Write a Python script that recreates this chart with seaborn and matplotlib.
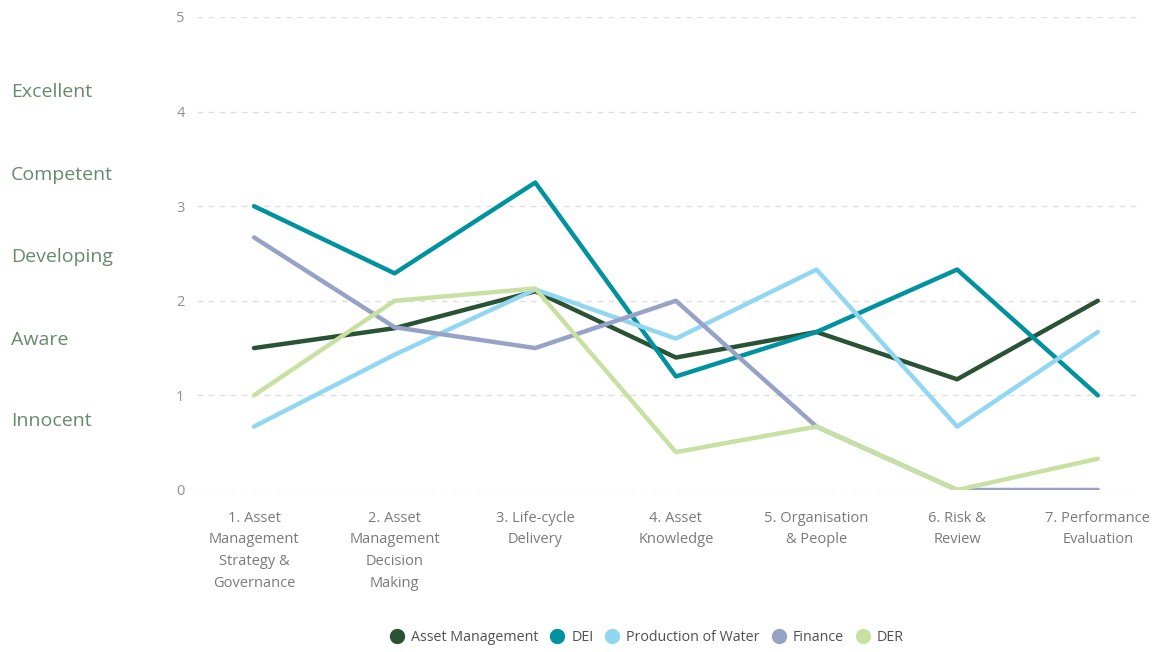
import matplotlib
matplotlib.use("Agg")
import matplotlib.pyplot as plt
import matplotlib.transforms as mtransforms
from matplotlib.lines import Line2D
import pandas as pd
import seaborn as sns

categories = [
    "1. Asset\nManagement\nStrategy &\nGovernance",
    "2. Asset\nManagement\nDecision\nMaking",
    "3. Life-cycle\nDelivery",
    "4. Asset\nKnowledge",
    "5. Organisation\n& People",
    "6. Risk &\nReview",
    "7. Performance\nEvaluation",
]
asset_management = [1.5, 1.71, 2.1, 1.4, 1.67, 1.17, 2.0]
dei = [3.0, 2.29, 3.25, 1.2, 1.67, 2.33, 1.0]
production_of_water = [0.67, 1.43, 2.12, 1.6, 2.33, 0.67, 1.67]
finance = [2.67, 1.72, 1.5, 2.0, 0.67, 0.0, 0.0]
der = [1.0, 2.0, 2.13, 0.4, 0.67, 0.0, 0.33]

series_names = ["Asset Management", "DEI", "Production of Water", "Finance", "DER"]
series_values = [asset_management, dei, production_of_water, finance, der]
colors = ["#2a5234", "#00939f", "#92d7f1", "#97a3c6", "#c8e1a3"]

level_labels = ["Excellent", "Competent", "Developing", "Aware", "Innocent"]
level_positions = [4.21, 3.33, 2.46, 1.59, 0.73]

rows = []
for name, vals in zip(series_names, series_values):
    for cat, v in zip(categories, vals):
        rows.append({"category": cat, "score": v, "series": name})
df = pd.DataFrame(rows)

sns.set_style("white")
plt.rcParams["font.family"] = ["Open Sans", "DejaVu Sans"]

fig = plt.figure(figsize=(11.63, 6.52), dpi=100)
ax = fig.add_axes([0.1694, 0.2485, 0.8108, 0.7255])

palette = dict(zip(series_names, colors))
sns.lineplot(data=df, x="category", y="score", hue="series", palette=palette,
             hue_order=series_names, sort=False, linewidth=3.2, ax=ax, legend=False)

ax.set_xlim(-0.405, 6.3)
ax.set_ylim(0, 5)
ax.set_yticks([0, 1, 2, 3, 4, 5])
ax.grid(axis="y", linestyle=(0, (4, 4)), color="#dedede", linewidth=1)
ax.set_axisbelow(True)
for s in ax.spines.values():
    s.set_visible(False)
ax.tick_params(axis="both", length=0, colors="#909090", labelsize=10.5)
ax.tick_params(axis="y", pad=9)
ax.tick_params(axis="x", pad=15)
for lbl in ax.get_xticklabels():
    lbl.set_color("#7a7a7a")
    lbl.set_linespacing(1.6)
ax.set_xlabel("")
ax.set_ylabel("")

trans = mtransforms.blended_transform_factory(fig.transFigure, ax.transData)
for lab, pos in zip(level_labels, level_positions):
    ax.text(11 / 1163, pos, lab, transform=trans, ha="left", va="center",
            fontsize=14, color="#668a6c", clip_on=False)

handles = [Line2D([0], [0], marker="o", linestyle="none", markersize=10,
                  markerfacecolor=c, markeredgecolor=c) for c in colors]
fig.legend(handles, series_names, loc="center", bbox_to_anchor=(0.553, 0.022),
           ncol=5, frameon=False, fontsize=10.3, handletextpad=0.0,
           columnspacing=0.3, labelcolor="#505050")

fig.savefig("out.png", dpi=100)
